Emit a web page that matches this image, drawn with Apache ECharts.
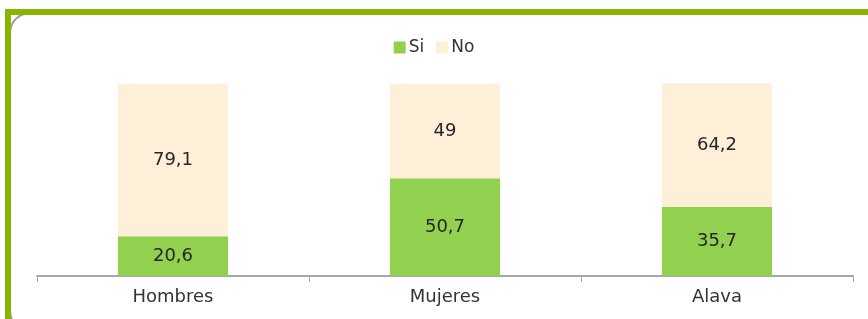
<!DOCTYPE html>
<html>
<head>
<meta charset="utf-8">
<script src="https://cdn.jsdelivr.net/npm/echarts@6/dist/echarts.min.js"></script>
<style>
  html, body { margin: 0; padding: 0; background: #fff; }
  #chart { width: 868px; height: 319px; }
</style>
</head>
<body>
<div id="chart"></div>
<script>
// datos
const categorias = ['Hombres', 'Mujeres', 'Alava'];
const valoresSi = [20.6, 50.7, 35.7];
const valoresNo = [79.1, 49, 64.2];

const fmt = p => String(p.value).replace('.', ',');

const chart = echarts.init(document.getElementById('chart'));

const option = {
  animation: false,
  backgroundColor: '#fff',
  textStyle: { fontFamily: 'DejaVu Sans' },
  legend: {
    data: ['Si', 'No'],
    top: 34,
    left: 'center',
    itemWidth: 12,
    itemHeight: 12,
    itemGap: 12,
    icon: 'rect',
    textStyle: { fontSize: 17, color: '#333', padding: [0, 0, 0, -2] }
  },
  grid: { left: 37, right: 15, top: 83, bottom: 43 },
  xAxis: {
    type: 'category',
    data: categorias,
    axisLine: { lineStyle: { color: '#a6a6a6', width: 2 } },
    axisTick: { show: true, length: 6, lineStyle: { color: '#a6a6a6' } },
    axisLabel: { fontSize: 18, color: '#333', margin: 12 }
  },
  yAxis: {
    type: 'value',
    min: 0,
    max: 100,
    show: false,
    splitLine: { show: false }
  },
  series: [
    {
      name: 'Si',
      type: 'bar',
      stack: 'total',
      barWidth: 110,
      data: valoresSi,
      itemStyle: { color: '#92d050' },
      label: { show: true, position: 'inside', fontSize: 18, color: '#262626', formatter: fmt }
    },
    {
      name: 'No',
      type: 'bar',
      stack: 'total',
      barWidth: 110,
      data: valoresNo,
      itemStyle: { color: '#fdefd8' },
      label: { show: true, position: 'inside', fontSize: 18, color: '#262626', formatter: fmt }
    }
  ],
  graphic: [
    // marco gris redondeado, casi oculto bajo el verde
    { type: 'rect', shape: { x: 10, y: 13, width: 872, height: 318, r: 20 },
      style: { fill: 'none', stroke: '#9a9a9a', lineWidth: 2 }, z: 10 },
    // marco verde
    { type: 'rect', shape: { x: 5, y: 9, width: 863, height: 6 },
      style: { fill: '#8bb400' }, z: 11 },
    { type: 'rect', shape: { x: 5, y: 9, width: 6, height: 310 },
      style: { fill: '#8bb400' }, z: 11 }
  ]
};

chart.setOption(option);
</script>
</body>
</html>
